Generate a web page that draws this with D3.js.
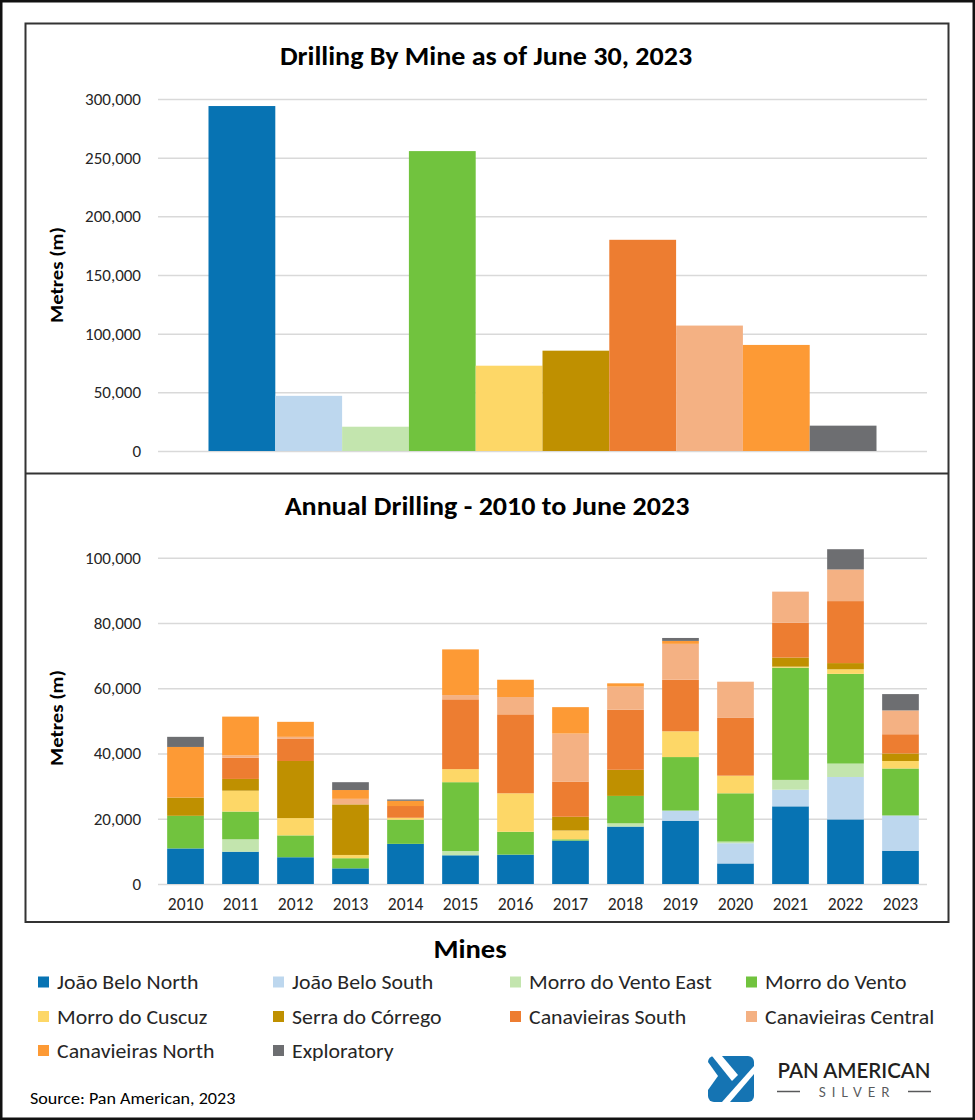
<!DOCTYPE html>
<html>
<head>
<meta charset="utf-8">
<script src="https://cdn.jsdelivr.net/npm/d3@7"></script>
<style>
  html, body { margin: 0; padding: 0; background: #fff; }
  svg { display: block; }
  text { font-family: Carlito, Lato, "Open Sans", sans-serif; }
</style>
</head>
<body>
<svg id="chart" width="975" height="1120"></svg>
<script>
// ---------- DATA ----------
const mines = ["João Belo North", "João Belo South", "Morro do Vento East", "Morro do Vento",
  "Morro do Cuscuz", "Serra do Córrego", "Canavieiras South", "Canavieiras Central",
  "Canavieiras North", "Exploratory"];
const mineColors = ["#0773B3", "#BDD7EE", "#C3E5AE", "#71C33E", "#FDD767", "#BF9000",
  "#ED7D31", "#F4B183", "#FD9A35", "#6D6E71"];
const totalMetres = [294000, 47000, 20700, 255600, 72700, 85500, 180000, 106900, 90400, 21600];

const years = ["2010","2011","2012","2013","2014","2015","2016","2017","2018","2019","2020","2021","2022","2023"];
const joaoBeloNorth  = [10900, 9900, 8200, 4800, 12300, 8800, 9000, 13300, 17600, 19400, 6300, 23800, 19800, 10200];
const joaoBeloSouth  = [0, 0, 0, 0, 0, 0, 0, 0, 0, 3100, 6200, 5100, 13000, 10800];
const morroVentoEast = [0, 3800, 0, 0, 0, 1300, 0, 0, 1000, 0, 500, 3000, 4100, 0];
const morroVento     = [10000, 8500, 6700, 3100, 7400, 21100, 7000, 400, 8400, 16400, 14800, 34400, 27500, 14400];
const morroCuscuz    = [0, 6400, 5300, 1000, 600, 4000, 11800, 2700, 0, 7900, 5400, 300, 1400, 2300];
const serraCorrego   = [5600, 3600, 17500, 15500, 0, 0, 0, 4200, 8000, 0, 0, 2800, 1900, 2300];
const canavSouth     = [0, 6500, 6900, 0, 3600, 21400, 24200, 10800, 18400, 15800, 17700, 10700, 19000, 5900];
const canavCentral   = [0, 700, 500, 1700, 0, 1300, 5300, 14700, 7100, 11000, 11100, 9500, 9700, 7300];
const canavNorth     = [15500, 11900, 4600, 2700, 1600, 14000, 5300, 8100, 1000, 900, 0, 0, 0, 0];
const exploratory    = [3100, 0, 0, 2400, 400, 0, 0, 0, 0, 900, 0, 0, 6200, 5000];
const annualSeries = [joaoBeloNorth, joaoBeloSouth, morroVentoEast, morroVento, morroCuscuz,
  serraCorrego, canavSouth, canavCentral, canavNorth, exploratory];

const topTicks = [0, 50000, 100000, 150000, 200000, 250000, 300000];
const bottomTicks = [0, 20000, 40000, 60000, 80000, 100000];

// ---------- DRAW ----------
const svg = d3.select("#chart");
const fmt = d3.format(",");
const gridColor = "#d9d9d9";
const textColor = "#262626";
const SX = 1.12; // horizontal stretch of the reference's lettering

function label(x, y, str, opts) {
  const o = Object.assign({ size: 16, weight: "normal", anchor: "start", fill: "#000", rotate: 0, sx: SX, family: null }, opts || {});
  const g = svg.append("g").attr("transform", `translate(${x},${y}) rotate(${o.rotate}) scale(${o.sx},1)`);
  const t = g.append("text").attr("text-anchor", o.anchor).attr("font-weight", o.weight)
    .style("font-size", o.size + "px").attr("fill", o.fill).text(str);
  if (o.family) t.style("font-family", o.family);
  return t;
}

svg.append("rect").attr("width", 975).attr("height", 1120).attr("fill", "#fff");
svg.append("rect").attr("x", 1.25).attr("y", 1.25).attr("width", 972.5).attr("height", 1117.5)
  .attr("fill", "none").attr("stroke", "#111").attr("stroke-width", 2.5);
svg.append("rect").attr("x", 25.5).attr("y", 23.5).attr("width", 923).attr("height", 898.5)
  .attr("fill", "none").attr("stroke", "#333").attr("stroke-width", 2);
svg.append("line").attr("x1", 25.5).attr("x2", 948.5).attr("y1", 473.5).attr("y2", 473.5)
  .attr("stroke", "#333").attr("stroke-width", 2);

const plotLeft = 158, plotRight = 927;

function yAxis(g, scale, ticks) {
  const ax = d3.axisLeft(scale).tickValues(ticks).tickFormat(fmt)
    .tickSize(-(plotRight - plotLeft)).tickPadding(17);
  g.attr("transform", `translate(${plotLeft},0)`).call(ax);
  g.select(".domain").remove();
  g.selectAll(".tick line").attr("stroke", gridColor).attr("stroke-width", 1.5);
  g.selectAll(".tick text").attr("fill", textColor).style("font-size", "17px")
    .style("font-family", "Carlito, Lato, sans-serif");
}

// ---- Top chart ----
const yTop = d3.scaleLinear().domain([0, 300000]).range([451, 99]);
svg.append("g").call(yAxis, yTop, topTicks);
const xTop = d3.scaleBand().domain(mines).range([plotLeft, plotRight]).paddingInner(0).paddingOuter(0.756);
svg.append("g").selectAll("rect").data(mines).join("rect")
  .attr("x", d => xTop(d))
  .attr("width", xTop.bandwidth())
  .attr("y", (d, i) => yTop(totalMetres[i]))
  .attr("height", (d, i) => yTop(0) - yTop(totalMetres[i]))
  .attr("fill", (d, i) => mineColors[i]);

label(486, 65, "Drilling By Mine as of June 30, 2023", { size: 25.5, weight: "bold", anchor: "middle", sx: 1.1 });
label(63, 275, "Metres (m)", { size: 18.5, weight: "bold", anchor: "middle", rotate: -90, sx: 1.12 });

// ---- Bottom chart ----
const yBot = d3.scaleLinear().domain([0, 100000]).range([884, 557.7]);
svg.append("g").call(yAxis, yBot, bottomTicks);
const xBot = d3.scaleBand().domain(years).range([plotLeft, plotRight + 1]).paddingInner(0.333).paddingOuter(0.1667);

const table = years.map((y, j) => {
  const row = { year: y };
  mines.forEach((m, i) => row[m] = annualSeries[i][j]);
  return row;
});
const stacked = d3.stack().keys(mines)(table);
svg.append("g").selectAll("g").data(stacked).join("g")
  .attr("fill", (d, i) => mineColors[i])
  .selectAll("rect").data(d => d).join("rect")
  .attr("x", d => xBot(d.data.year))
  .attr("width", xBot.bandwidth())
  .attr("y", d => yBot(d[1]))
  .attr("height", d => yBot(d[0]) - yBot(d[1]));

const xAx = svg.append("g").attr("transform", "translate(0,884)")
  .call(d3.axisBottom(xBot).tickSize(0).tickPadding(14));
xAx.select(".domain").remove();
xAx.selectAll(".tick text").attr("fill", textColor).style("font-size", "17.5px")
  .style("font-family", "Carlito, Lato, sans-serif");

label(487, 515, "Annual Drilling - 2010 to June 2023", { size: 25.5, weight: "bold", anchor: "middle", sx: 1.1 });
label(63, 718, "Metres (m)", { size: 18.5, weight: "bold", anchor: "middle", rotate: -90, sx: 1.12 });

// ---- Legend ----
label(470, 958, "Mines", { size: 26, weight: "bold", anchor: "middle", sx: 1.1 });
const legCols = [38, 273, 510, 746], legRows = [982, 1016.5, 1050.5];
const leg = svg.append("g").selectAll("g").data(mines).join("g")
  .attr("transform", (d, i) => `translate(${legCols[i % 4]},${legRows[Math.floor(i / 4)]})`);
leg.append("rect").attr("x", 0).attr("y", -5.5).attr("width", 11).attr("height", 11)
  .attr("fill", (d, i) => mineColors[i]);
leg.append("text").attr("transform", `translate(19,7) scale(${SX},1)`)
  .style("font-size", "19.5px").attr("fill", textColor)
  .text(d => d);

label(30, 1104, "Source: Pan American, 2023", { size: 16, sx: 1.13 });

// ---- Logo ----
const logo = svg.append("g").attr("transform", "translate(708,1056)");
logo.append("rect").attr("width", 46).attr("height", 46).attr("rx", 6).attr("fill", "#1574B3");
logo.append("path").attr("d", "M4,0 L14,0 L30,19 L24,25 Z").attr("fill", "#fff");
logo.append("path").attr("d", "M0,6 L10,20 L0,34 Z").attr("fill", "#fff");
logo.append("path").attr("d", "M14,46 L22,46 L46,18 L46,10 Z").attr("fill", "#fff");
label(854, 1078, "PAN AMERICAN", { size: 20.5, weight: "600", anchor: "middle", sx: 1, fill: "#231f20", family: "Lato, sans-serif" });
svg.append("text").attr("x", 857).attr("y", 1097).attr("text-anchor", "middle")
  .style("font-size", "13px").attr("fill", "#58595b").style("letter-spacing", "6px")
  .style("font-family", "Lato, sans-serif").text("SILVER");
svg.append("line").attr("x1", 777).attr("x2", 800).attr("y1", 1091.5).attr("y2", 1091.5)
  .attr("stroke", "#58595b").attr("stroke-width", 1.5);
svg.append("line").attr("x1", 908).attr("x2", 931).attr("y1", 1091.5).attr("y2", 1091.5)
  .attr("stroke", "#58595b").attr("stroke-width", 1.5);
</script>
</body>
</html>
